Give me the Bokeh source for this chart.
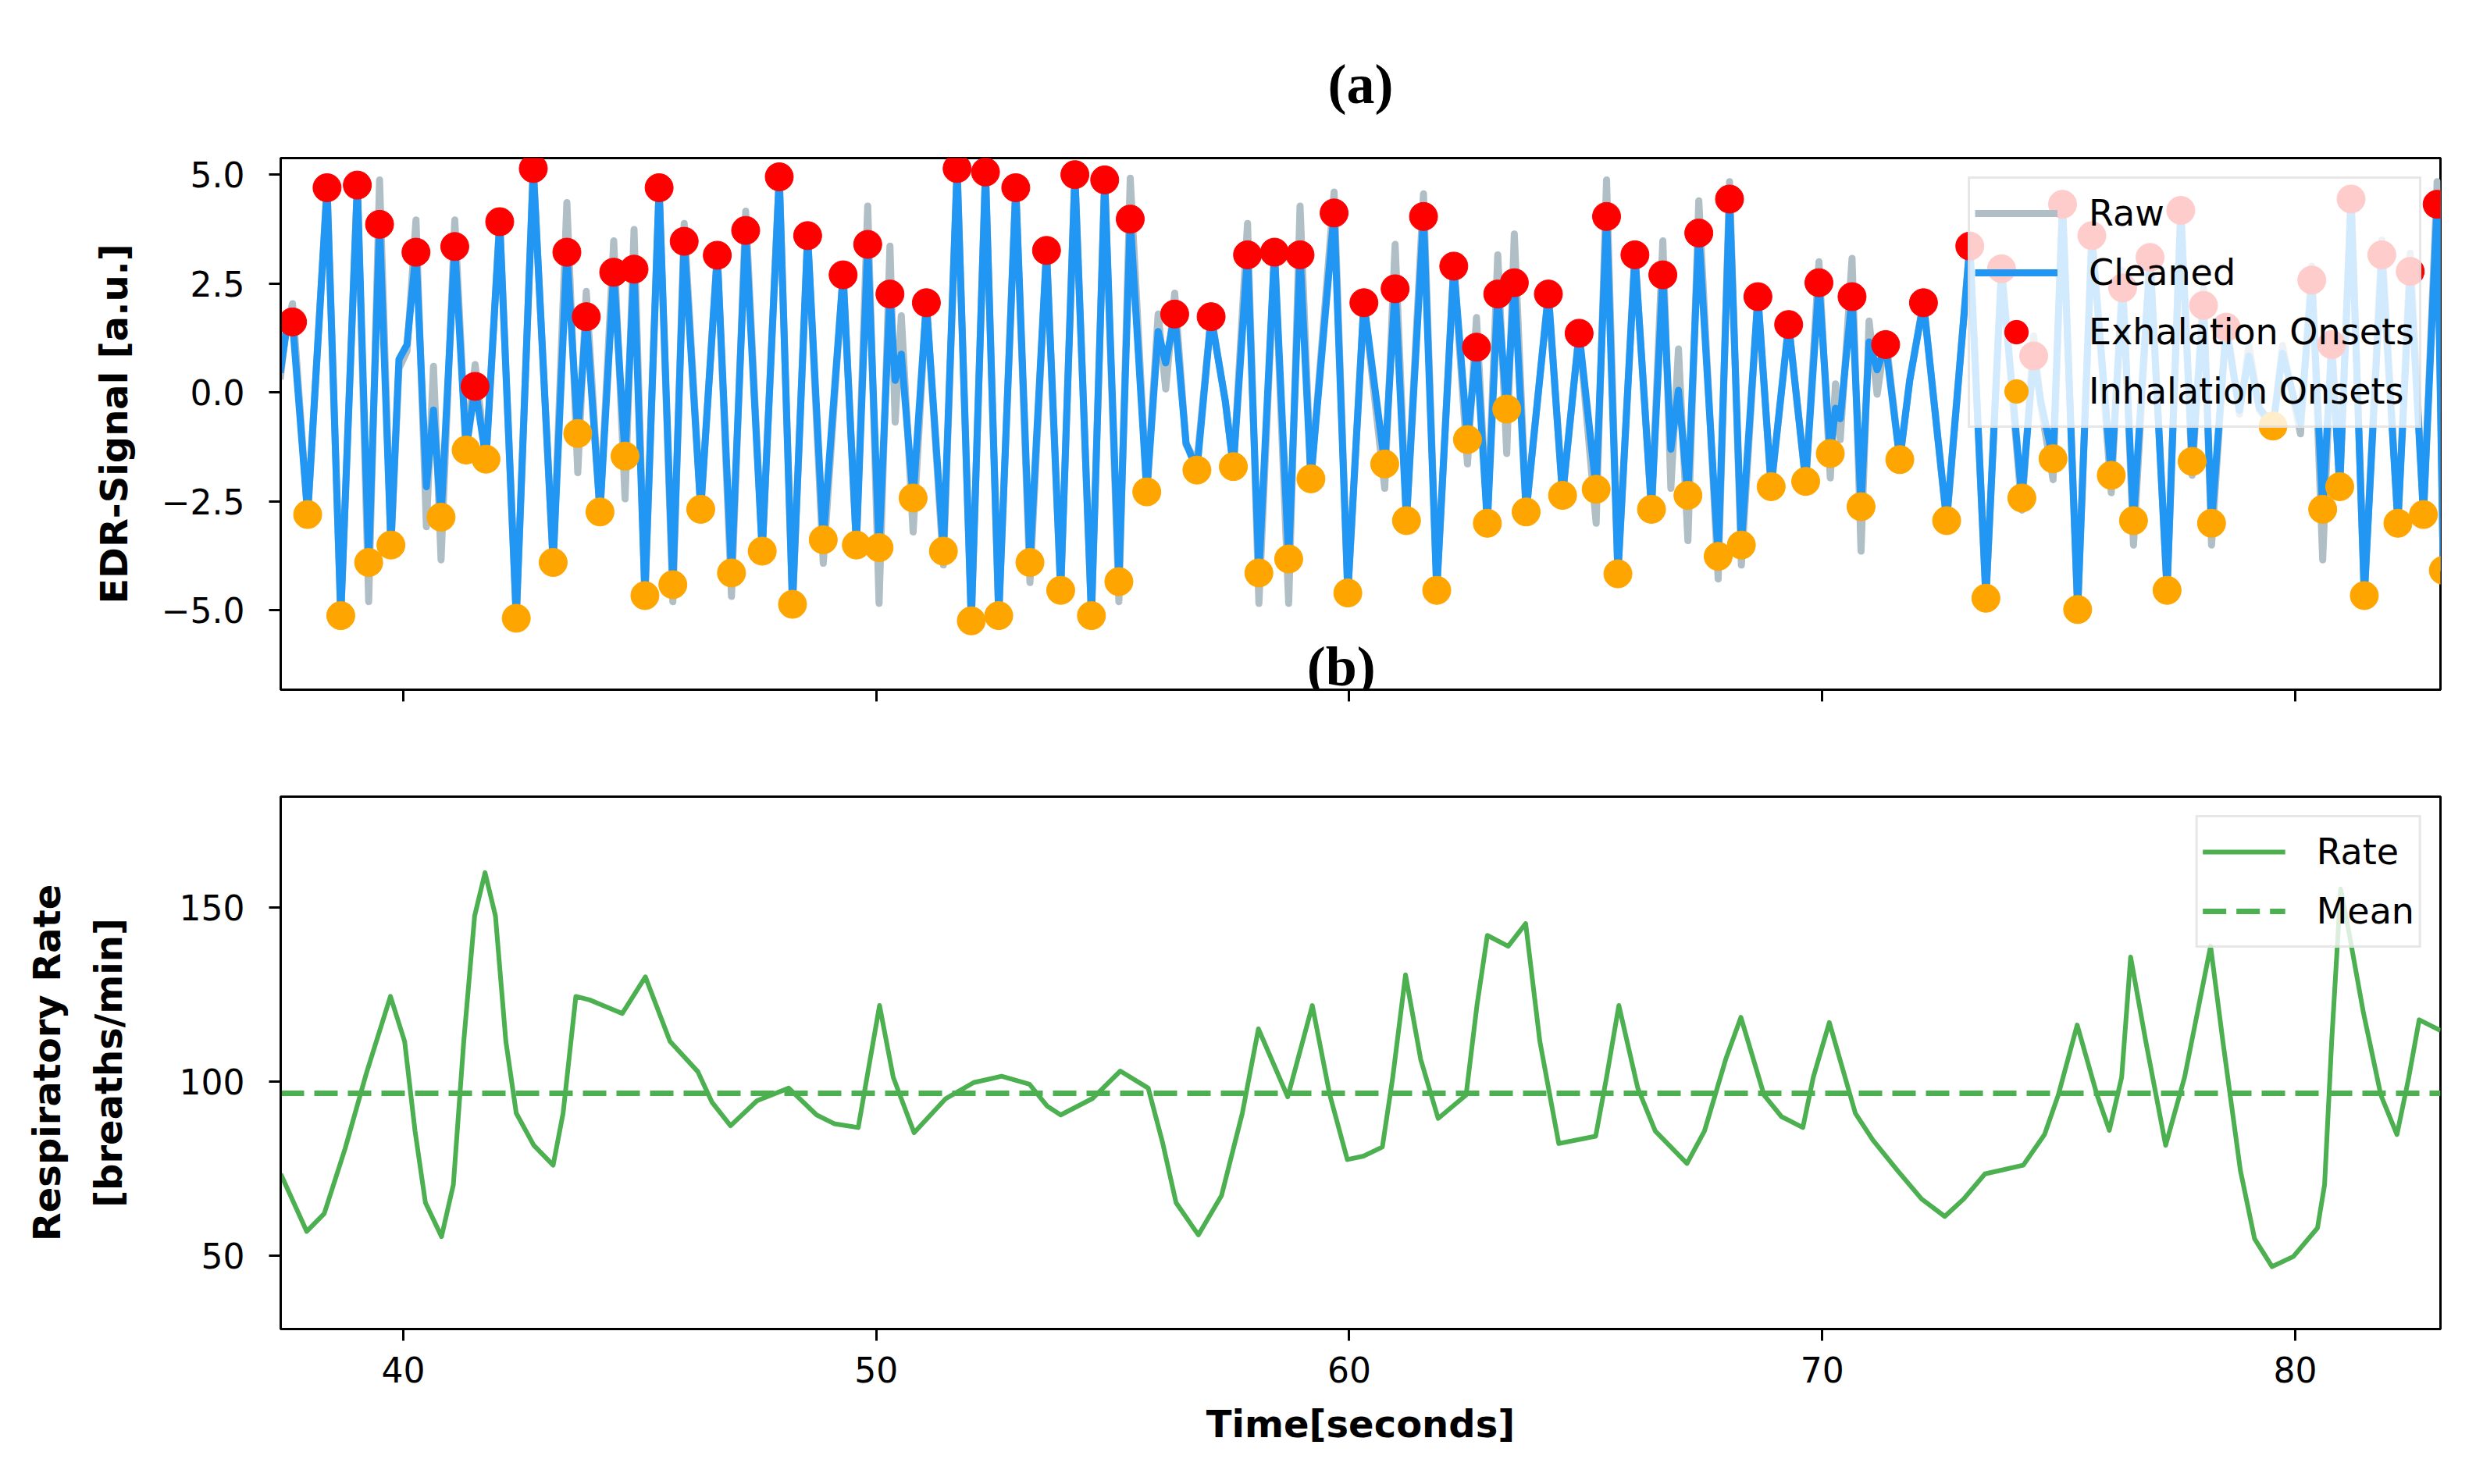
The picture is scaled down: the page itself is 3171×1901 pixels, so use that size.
from bokeh.plotting import figure
from bokeh.layouts import column
from bokeh.models import Range1d, FixedTicker, CustomJSTickFormatter, Label
from bokeh.embed import file_html
from bokeh.resources import INLINE

# EDR signal: time [s], cleaned value, raw value
edr_t = [37.40, 37.52, 37.66, 37.98, 38.39, 38.68, 39.03, 39.27, 39.50, 39.74,
         39.91, 40.08, 40.27, 40.49, 40.64, 40.80, 41.09, 41.33, 41.52, 41.75,
         42.04, 42.39, 42.75, 43.17, 43.46, 43.69, 43.87, 44.16, 44.45, 44.69,
         44.88, 45.11, 45.41, 45.70, 45.94, 46.29, 46.64, 46.94, 47.24, 47.59,
         47.95, 48.23, 48.55, 48.88, 49.30, 49.58, 49.82, 50.06, 50.29, 50.40,
         50.53, 50.78, 51.06, 51.42, 51.71, 52.01, 52.31, 52.59, 52.95, 53.25,
         53.60, 53.90, 54.20, 54.55, 54.83, 55.13, 55.37, 55.72, 55.96, 56.12,
         56.31, 56.55, 56.78, 57.08, 57.38, 57.55, 57.85, 58.09, 58.42, 58.72,
         58.96, 59.19, 59.68, 59.97, 60.31, 60.75, 60.97, 61.21, 61.57, 61.85,
         62.21, 62.50, 62.69, 62.92, 63.14, 63.33, 63.49, 63.74, 64.21, 64.51,
         64.86, 65.22, 65.44, 65.68, 66.04, 66.39, 66.63, 66.80, 66.96, 67.16,
         67.39, 67.80, 68.04, 68.29, 68.64, 68.92, 69.29, 69.65, 69.93, 70.17,
         70.28, 70.38, 70.63, 70.82, 70.99, 71.16, 71.34, 71.64, 71.85, 72.14,
         72.63, 73.12, 73.46, 73.79, 74.22, 74.47, 74.62, 74.88, 75.08, 75.40,
         75.70, 76.11, 76.35, 76.58, 76.93, 77.29, 77.58, 77.82, 78.06, 78.23,
         78.54, 78.82, 79.02, 79.24, 79.53, 79.73, 80.11, 80.35, 80.58, 80.77,
         80.94, 81.18, 81.46, 81.83, 82.17, 82.43, 82.71, 83.00, 83.13]
edr_clean = [0.45, 1.35, 1.62, -2.80, 4.70, -5.12, 4.76, -3.90, 3.86, -3.50,
             0.76, 1.10, 3.22, -2.16, -0.40, -2.86, 3.35, -1.32, 0.14, -1.53,
             3.92, -5.18, 5.14, -3.90, 3.22, -0.94, 1.74, -2.74, 2.76, -1.46,
             2.83, -4.66, 4.70, -4.41, 3.47, -2.68, 3.15, -4.14, 3.72, -3.64,
             4.95, -4.86, 3.60, -3.38, 2.70, -3.50, 3.40, -3.56, 2.26, 0.28,
             0.88, -2.42, 2.06, -3.64, 5.14, -5.24, 5.06, -5.12, 4.70, -3.90,
             3.26, -4.54, 5.00, -5.12, 4.88, -4.34, 3.98, -2.28, 1.40, 0.68,
             1.80, -1.16, -1.78, 1.74, -0.20, -1.70, 3.16, -4.14, 3.22, -3.82,
             3.16, -1.98, 4.12, -4.60, 2.06, -1.64, 2.38, -2.94, 4.04, -4.54,
             2.90, -1.08, 1.04, -3.00, 2.26, -0.38, 2.52, -2.74, 2.26, -2.36,
             1.36, -2.22, 4.04, -4.16, 3.16, -2.68, 2.70, -1.30, 0.05, -2.36,
             3.66, -3.76, 4.44, -3.50, 2.20, -2.16, 1.56, -2.04, 2.52, -1.40,
             -0.36, -0.60, 2.20, -2.62, 1.16, 0.52, 1.10, -1.54, 0.28, 2.06,
             -2.94, 3.36, -4.72, 2.84, -2.42, 0.84, -0.20, -1.52, 4.32, -4.98,
             3.60, -1.90, 2.40, -2.94, 3.10, -4.54, 4.18, -1.58, 2.00, -3.00,
             1.50, -0.41, 0.84, -0.35, -0.77, 0.90, -0.71, 2.58, -2.68, 1.10,
             -2.16, 4.44, -4.66, 3.16, -3.00, 2.78, -2.80, 4.32, -4.08]
edr_raw = [0.30, 1.45, 2.04, -2.82, 4.74, -5.15, 4.80, -4.80, 4.88, -3.55,
           0.55, 0.95, 3.96, -3.08, 0.60, -3.84, 3.96, -1.30, 0.64, -1.55,
           3.95, -5.20, 5.18, -3.95, 4.36, -1.84, 2.32, -2.76, 3.48, -2.44,
           3.74, -4.70, 4.72, -4.80, 3.88, -2.70, 3.20, -4.68, 4.16, -3.66,
           4.98, -4.90, 3.65, -3.92, 2.75, -3.52, 4.28, -4.84, 3.36, -0.68,
           1.76, -3.20, 2.10, -3.96, 5.16, -5.26, 5.08, -5.14, 4.72, -4.36,
           3.28, -4.56, 5.02, -5.14, 4.90, -4.80, 4.92, -2.30, 1.80, 0.08,
           2.28, -1.20, -1.60, 1.76, -0.20, -1.72, 3.88, -4.84, 3.24, -4.84,
           4.28, -2.00, 4.60, -4.62, 2.08, -2.20, 3.40, -2.96, 4.56, -4.56,
           2.92, -1.64, 1.72, -3.02, 3.16, -1.40, 3.64, -2.76, 2.28, -2.38,
           1.38, -3.00, 4.88, -4.18, 3.18, -2.70, 3.48, -2.20, 1.00, -3.40,
           4.40, -4.28, 4.84, -3.96, 2.22, -2.18, 1.58, -2.06, 3.00, -1.96,
           0.20, -1.08, 3.08, -3.64, 1.64, -0.04, 1.30, -1.56, 0.30, 2.08,
           -2.96, 3.40, -4.74, 2.86, -2.70, 1.30, -0.30, -2.00, 4.40, -5.00,
           3.62, -2.30, 2.80, -3.50, 3.12, -4.56, 4.30, -1.90, 2.40, -3.50,
           1.60, -0.50, 1.10, -0.40, -0.80, 1.08, -0.95, 2.90, -3.84, 1.30,
           -2.20, 4.60, -4.70, 3.50, -3.02, 3.20, -2.82, 4.84, -4.10]

# exhalation onsets (peaks)
exh_t = [37.66, 38.39, 39.03, 39.50, 40.27, 41.09, 41.52, 42.04, 42.75, 43.46,
         43.87, 44.45, 44.88, 45.41, 45.94, 46.64, 47.24, 47.95, 48.55, 49.30,
         49.82, 50.29, 51.06, 51.71, 52.31, 52.95, 53.60, 54.20, 54.83, 55.37,
         56.31, 57.08, 57.85, 58.42, 58.96, 59.68, 60.31, 60.97, 61.57, 62.21,
         62.69, 63.14, 63.49, 64.21, 64.86, 65.44, 66.04, 66.63, 67.39, 68.04,
         68.64, 69.29, 69.93, 70.63, 71.34, 72.14, 73.12, 73.79, 74.47, 75.08,
         75.70, 76.35, 76.93, 77.58, 78.06, 78.54, 80.35, 80.77, 81.18, 81.83,
         82.43, 83.00]
exh_v = [1.62, 4.70, 4.76, 3.86, 3.22, 3.35, 0.14, 3.92, 5.14, 3.22,
         1.74, 2.76, 2.83, 4.70, 3.47, 3.15, 3.72, 4.95, 3.60, 2.70,
         3.40, 2.26, 2.06, 5.14, 5.06, 4.70, 3.26, 5.00, 4.88, 3.98,
         1.80, 1.74, 3.16, 3.22, 3.16, 4.12, 2.06, 2.38, 4.04, 2.90,
         1.04, 2.26, 2.52, 2.26, 1.36, 4.04, 3.16, 2.70, 3.66, 4.44,
         2.20, 1.56, 2.52, 2.20, 1.10, 2.06, 3.36, 2.84, 0.84, 4.32,
         3.60, 2.40, 3.10, 4.18, 2.00, 1.50, 2.58, 1.10, 4.44, 3.16,
         2.78, 4.32]

# inhalation onsets (troughs)
inh_t = [37.98, 38.68, 39.27, 39.74, 40.80, 41.33, 41.75, 42.39, 43.17, 43.69,
         44.16, 44.69, 45.11, 45.70, 46.29, 46.94, 47.59, 48.23, 48.88, 49.58,
         50.06, 50.78, 51.42, 52.01, 52.59, 53.25, 53.90, 54.55, 55.13, 55.72,
         56.78, 57.55, 58.09, 58.72, 59.19, 59.97, 60.75, 61.21, 61.85, 62.50,
         62.92, 63.33, 63.74, 64.51, 65.22, 65.68, 66.39, 67.16, 67.80, 68.29,
         68.92, 69.65, 70.17, 70.82, 71.64, 72.63, 73.46, 74.22, 74.88, 75.40,
         76.11, 76.58, 77.29, 77.82, 78.23, 79.53, 80.58, 80.94, 81.46, 82.17,
         82.71, 83.13]
inh_v = [-2.80, -5.12, -3.90, -3.50, -2.86, -1.32, -1.53, -5.18, -3.90, -0.94,
         -2.74, -1.46, -4.66, -4.41, -2.68, -4.14, -3.64, -4.86, -3.38, -3.50,
         -3.56, -2.42, -3.64, -5.24, -5.12, -3.90, -4.54, -5.12, -4.34, -2.28,
         -1.78, -1.70, -4.14, -3.82, -1.98, -4.60, -1.64, -2.94, -4.54, -1.08,
         -3.00, -0.38, -2.74, -2.36, -2.22, -4.16, -2.68, -2.36, -3.76, -3.50,
         -2.16, -2.04, -1.40, -2.62, -1.54, -2.94, -4.72, -2.42, -1.52, -4.98,
         -1.90, -2.94, -4.54, -1.58, -3.00, -0.77, -2.68, -2.16, -4.66, -3.00,
         -2.80, -4.08]

# respiratory rate [breaths/min]
rate_t = [37.41, 37.96, 38.33, 38.77, 39.22, 39.73, 40.03, 40.25, 40.47, 40.81,
          41.06, 41.28, 41.51, 41.73, 41.95, 42.17, 42.39, 42.76, 43.17, 43.38,
          43.65, 43.94, 44.63, 45.12, 45.64, 46.23, 46.53, 46.92, 47.48, 48.15,
          48.74, 49.11, 49.62, 50.07, 50.36, 50.80, 51.47, 52.06, 52.65, 53.24,
          53.61, 53.90, 54.57, 55.16, 55.75, 56.05, 56.34, 56.81, 57.30, 57.74,
          58.08, 58.70, 59.22, 59.59, 59.96, 60.30, 60.70, 60.92, 61.19, 61.51,
          61.88, 62.47, 62.70, 62.92, 63.36, 63.73, 64.03, 64.43, 65.21, 65.44,
          65.70, 66.10, 66.47, 67.14, 67.51, 67.96, 68.28, 68.77, 69.14, 69.59,
          69.81, 70.15, 70.70, 71.07, 71.59, 72.10, 72.59, 72.99, 73.44, 74.25,
          74.70, 74.99, 75.39, 75.81, 76.07, 76.33, 76.52, 76.84, 77.26, 77.66,
          78.21, 78.47, 78.84, 79.14, 79.51, 79.96, 80.47, 80.62, 80.77, 80.96,
          81.14, 81.44, 81.81, 82.15, 82.40, 82.62, 83.07]
rate_v = [73.5, 57.0, 62.1, 80.7, 102.3, 124.4, 111.5, 85.8, 65.2, 55.5,
          70.4, 111.5, 147.5, 159.9, 147.5, 111.5, 90.9, 81.7, 76.0, 90.9,
          124.4, 123.4, 119.5, 130.0, 111.5, 102.8, 94.0, 87.3, 94.5, 98.1,
          90.4, 87.9, 86.8, 121.8, 101.2, 85.3, 95.1, 99.7, 101.5, 99.2,
          93.0, 90.4, 95.1, 103.0, 98.1, 82.7, 65.2, 56.0, 67.3, 90.9,
          115.1, 95.6, 121.8, 96.1, 77.6, 78.6, 81.2, 101.2, 130.6, 106.4,
          89.4, 96.1, 121.8, 141.9, 138.8, 145.3, 111.5, 82.2, 84.3, 101.2,
          121.8, 98.1, 85.8, 76.5, 85.8, 106.4, 118.4, 96.1, 89.9, 86.8,
          101.2, 116.9, 90.9, 83.2, 74.5, 66.3, 61.3, 66.3, 73.5, 76.0,
          84.8, 96.1, 116.2, 96.1, 86.0, 101.2, 135.7, 111.5, 81.7, 101.2,
          138.8, 111.5, 74.5, 54.9, 46.9, 49.8, 58.0, 70.4, 111.5, 155.2,
          142.4, 119.8, 96.1, 84.8, 101.2, 117.7, 114.6]
rate_mean = 96.6

x_ticks = [40, 50, 60, 70, 80]
edr_ticks = [-5.0, -2.5, 0.0, 2.5, 5.0]
rate_ticks = [50, 100, 150]

TICK_FONT = "DejaVu Sans"
TICK_SIZE = "44px"


def style_axes(p):
    p.grid.visible = False
    p.outline_line_color = "black"
    p.outline_line_width = 3
    for ax in p.axis:
        ax.axis_line_width = 3
        ax.major_tick_line_width = 3
        ax.major_tick_out = 15
        ax.major_tick_in = 0
        ax.minor_tick_line_color = None
        ax.major_label_text_font = TICK_FONT
        ax.major_label_text_font_size = TICK_SIZE
        ax.major_label_text_color = "black"
        ax.axis_label_text_font = "DejaVu Sans"
        ax.axis_label_text_font_style = "bold"
        ax.axis_label_text_font_size = "48px"
        ax.axis_label_text_color = "black"


def style_legend(lg):
    lg.location = "top_right"
    lg.margin = 24
    lg.padding = 6
    lg.spacing = 0
    lg.glyph_width = 106
    lg.glyph_height = 76
    lg.label_standoff = 40
    lg.label_text_font = TICK_FONT
    lg.label_text_font_size = "46px"
    lg.label_text_color = "black"
    lg.background_fill_alpha = 0.8
    lg.border_line_color = "#d0d0d0"
    lg.border_line_width = 3


x_range = Range1d(37.41, 83.07)

# (a) EDR signal
fa = figure(frame_width=2766, frame_height=681, x_range=x_range,
            y_range=Range1d(-6.82, 5.38),
            min_border_left=359, min_border_right=30,
            min_border_top=202, min_border_bottom=30,
            output_backend="svg", toolbar_location=None)
fa.title.text = "(a)"
fa.title.align = "center"
fa.title.text_font = "Liberation Serif"
fa.title.text_font_style = "bold"
fa.title.text_font_size = "72px"
fa.title.text_color = "black"
fa.title.standoff = 110

fa.line(edr_t, edr_raw, line_color="#B0BEC5", line_width=9,
        line_join="round", legend_label="Raw")
fa.line(edr_t, edr_clean, line_color="#2196F3", line_width=9,
        line_join="round", legend_label="Cleaned")
fa.scatter(exh_t, exh_v, size=36, color="red", legend_label="Exhalation Onsets")
fa.scatter(inh_t, inh_v, size=36, color="orange", legend_label="Inhalation Onsets")

style_axes(fa)
fa.xaxis.ticker = FixedTicker(ticks=x_ticks)
# shared x axis: tick marks only, labels are on the lower panel
fa.xaxis.formatter = CustomJSTickFormatter(code="return '';")
fa.xaxis.major_label_text_font_size = "1px"
fa.xaxis.major_label_standoff = 0
fa.yaxis.ticker = FixedTicker(ticks=edr_ticks)
fa.yaxis.formatter = CustomJSTickFormatter(
    code="return tick < 0 ? '\u2212' + (-tick).toFixed(1) : tick.toFixed(1);")
fa.yaxis.major_label_standoff = 31
fa.yaxis.axis_label = "EDR-Signal [a.u.]"
fa.yaxis.axis_label_standoff = 30
style_legend(fa.legend[0])

fa.add_layout(Label(x=59.83, y=-6.3, text="(b)", text_align="center",
                    text_baseline="middle", text_font="Liberation Serif",
                    text_font_style="bold", text_font_size="72px",
                    text_color="black"))

# (b) respiratory rate
fb = figure(frame_width=2766, frame_height=682, x_range=x_range,
            y_range=Range1d(29.0, 181.7),
            min_border_left=359, min_border_right=30,
            min_border_top=107, min_border_bottom=170,
            output_backend="svg", toolbar_location=None)
fb.line(rate_t, rate_v, line_color="#4CAF50", line_width=6,
        line_join="round", legend_label="Rate")
fb.line([rate_t[0], rate_t[-1]], [rate_mean, rate_mean], line_color="#4CAF50",
        line_width=7, line_dash="30 13", legend_label="Mean")

style_axes(fb)
fb.xaxis.ticker = FixedTicker(ticks=x_ticks)
fb.xaxis.major_label_standoff = 20
fb.xaxis.axis_label = "Time[seconds]"
fb.xaxis.axis_label_standoff = 22
fb.yaxis.ticker = FixedTicker(ticks=rate_ticks)
fb.yaxis.major_label_standoff = 31
fb.yaxis.axis_label = "Respiratory Rate\n[breaths/min]"
fb.yaxis.axis_label_text_line_height = 1.4
fb.yaxis.axis_label_standoff = 60
style_legend(fb.legend[0])

p = column(fa, fb)
open("out.html", "w").write(file_html(p, INLINE))
